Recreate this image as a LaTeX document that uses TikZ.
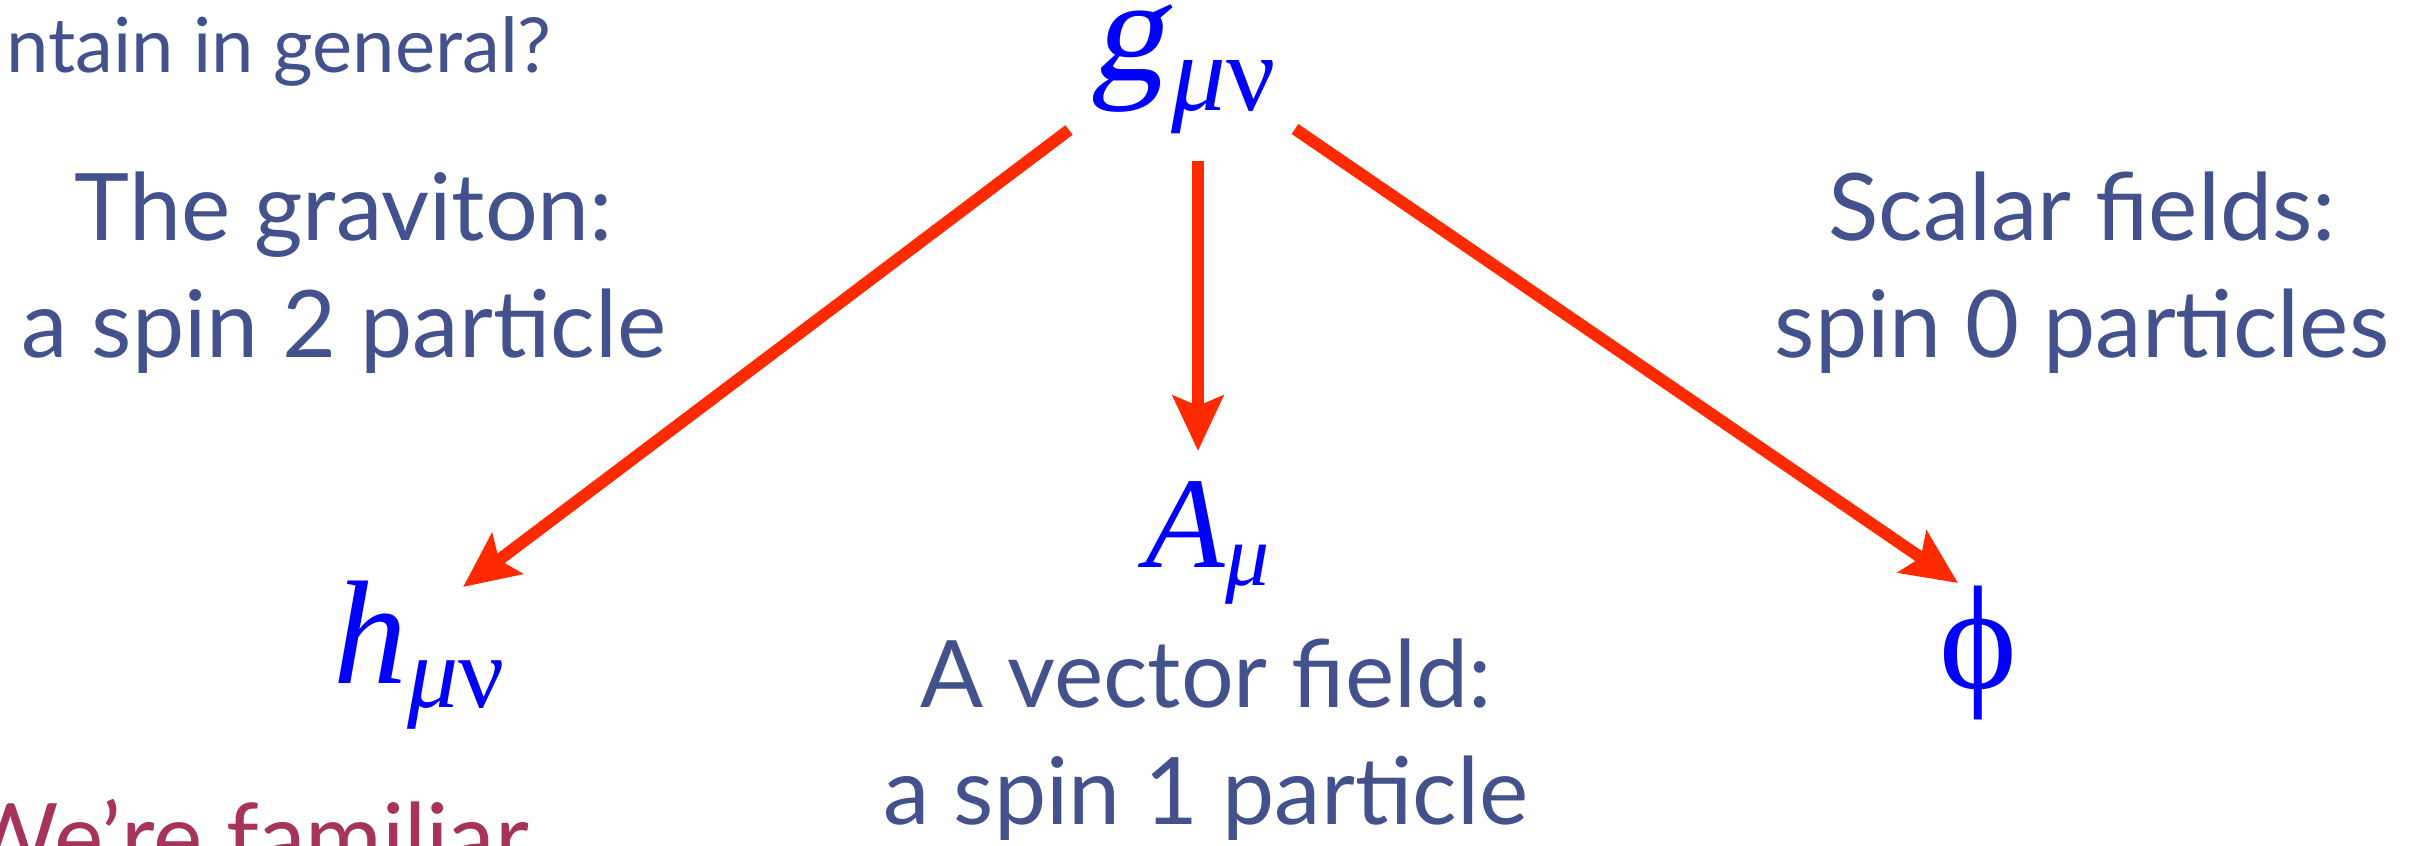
\documentclass[tikz,border=0pt]{standalone}
\usepackage{fontspec}
\setmainfont{Lato}
\newfontfamily\symfont{Liberation Serif}
\newfontfamily\slantfont[FakeSlant=0.2]{Liberation Serif}
\usetikzlibrary{arrows.meta, positioning}
\definecolor{cslate}{HTML}{43528C}
\definecolor{cred}{HTML}{FF2A00}
\definecolor{cmaroon}{HTML}{A6335B}
\definecolor{cfield}{HTML}{0000FF}
% symbol with a lowered index: size, symbol, index size, index, drop
\newcommand{\fld}[5]{{\fontsize{#1}{#1}\selectfont #2}\raisebox{-#5}{\fontsize{#3}{#3}\selectfont #4}}
\tikzset{
  every picture/.style={x=0.01cm, y=-0.01cm},
  lbl/.style={text=cslate, font=\fontsize{26.5}{26.5}\selectfont, anchor=base, inner sep=0pt},
  sym/.style={text=cfield, font=\symfont, anchor=base west, inner sep=0pt},
  arrow/.style={-{Stealth[length=0.55cm, width=0.5cm, inset=0.1cm]}, draw=cred, line width=0.12cm},
}

\begin{document}
\begin{tikzpicture}
  \useasboundingbox (0,0) rectangle (2421,845);
  \clip (0,0) rectangle (2421,845);
  % fields
  \node[sym] (gmn) at (1090,80) {\fld{42pt}{\slantfont g\kern0.07cm}{31pt}{\itshape μ\upshape ν}{0.30cm}};
  \node[sym] (hmn) at (333,683) {\fld{42pt}{\itshape h}{29pt}{\itshape μ\upshape ν}{0.24cm}};
  \node[sym] (amu) at (1145,567) {\fld{37pt}{\itshape A}{25pt}{\itshape μ}{0.18cm}};
  \node[sym, anchor=base] (phi) at (1978,688) {\fontsize{42pt}{42pt}\selectfont ϕ};
  % labels
  \node[lbl, anchor=base west, font=\fontsize{21.6}{21.6}\selectfont] (quest) at (6,72) {ntain in general?};
  \node[lbl] (grav) at (344,240) {The graviton:};
  \node[lbl] (gravb) at (344,357) {a spin 2 particle};
  \node[lbl] (vec) at (1206,707) {A vector field:};
  \node[lbl] (vecb) at (1206,824) {a spin 1 particle};
  \node[lbl] (scal) at (2082,240) {Scalar fields:};
  \node[lbl] (scalb) at (2082,357) {spin 0 particles};
  \node[lbl, anchor=base west, text=cmaroon] (fam) at (-38,870) {We’re familiar};
  % arrows
  \coordinate (gl) at (1069,130);
  \coordinate (hr) at (463,587);
  \coordinate (gc) at (1198,161);
  \coordinate (atop) at (1198,451);
  \coordinate (gr) at (1295,129);
  \coordinate (pl) at (1958,583);
  \draw[arrow] (gl) -- (hr);
  \draw[arrow] (gc) -- (atop);
  \draw[arrow] (gr) -- (pl);
\end{tikzpicture}
\end{document}
